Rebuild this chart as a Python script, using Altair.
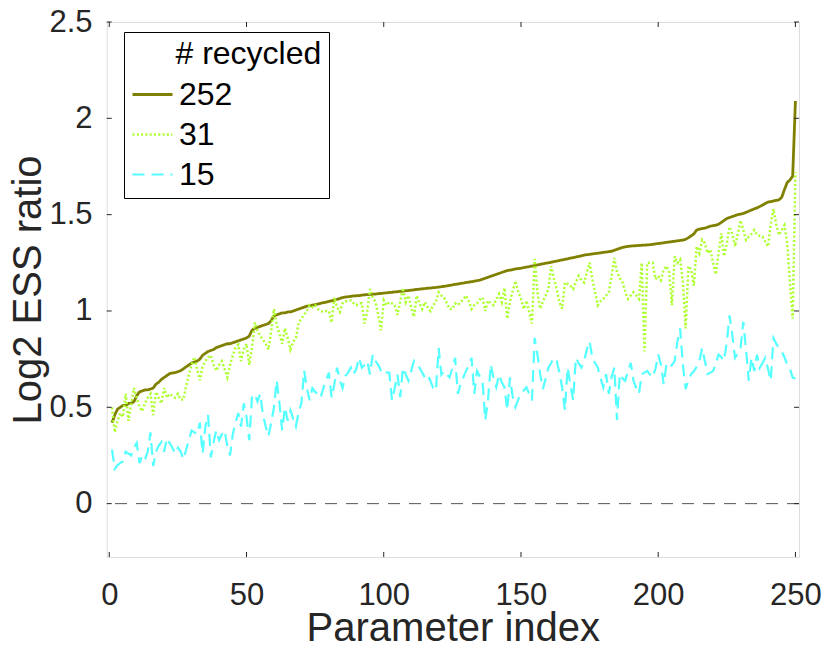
import altair as alt
import pandas as pd

# ---------------- data ----------------
param_index = list(range(1, 251))

s252 = [
    0.42, 0.46, 0.49, 0.50, 0.51, 0.51, 0.52, 0.52, 0.53, 0.56,
    0.58, 0.585, 0.59, 0.59, 0.595, 0.60, 0.62, 0.63, 0.645, 0.655,
    0.665, 0.675, 0.678, 0.68, 0.685, 0.69, 0.70, 0.71, 0.72, 0.73,
    0.735, 0.74, 0.75, 0.77, 0.78, 0.79, 0.795, 0.80, 0.81, 0.815,
    0.82, 0.825, 0.83, 0.83, 0.835, 0.84, 0.845, 0.85, 0.855, 0.86,
    0.87, 0.90, 0.91, 0.915, 0.92, 0.925, 0.93, 0.935, 0.95, 0.975,
    0.98, 0.985, 0.99, 0.99, 0.995, 0.995, 1.0, 1.005, 1.01, 1.015,
    1.02, 1.025, 1.027, 1.03, 1.033, 1.036, 1.04, 1.043, 1.046, 1.05,
    1.053, 1.056, 1.06, 1.065, 1.07, 1.072, 1.074, 1.076, 1.078, 1.079,
    1.08, 1.082, 1.084, 1.085, 1.086, 1.087, 1.088, 1.09, 1.091, 1.093,
    1.094, 1.096, 1.097, 1.099, 1.10, 1.102, 1.103, 1.105, 1.106, 1.108,
    1.11, 1.112, 1.113, 1.115, 1.116, 1.118, 1.119, 1.121, 1.122, 1.124,
    1.126, 1.128, 1.13, 1.133, 1.135, 1.138, 1.14, 1.143, 1.145, 1.148,
    1.15, 1.152, 1.155, 1.157, 1.16, 1.165, 1.17, 1.175, 1.18, 1.185,
    1.19, 1.195, 1.20, 1.205, 1.21, 1.212, 1.215, 1.218, 1.22, 1.222,
    1.225, 1.228, 1.23, 1.233, 1.236, 1.239, 1.242, 1.245, 1.248, 1.25,
    1.253, 1.256, 1.259, 1.262, 1.265, 1.268, 1.271, 1.274, 1.277, 1.28,
    1.283, 1.286, 1.29, 1.292, 1.294, 1.296, 1.298, 1.30, 1.302, 1.304,
    1.306, 1.308, 1.31, 1.315, 1.32, 1.325, 1.33, 1.333, 1.335, 1.337,
    1.338, 1.339, 1.34, 1.341, 1.342, 1.343, 1.344, 1.346, 1.348, 1.35,
    1.352, 1.354, 1.356, 1.358, 1.36, 1.362, 1.364, 1.366, 1.368, 1.372,
    1.38, 1.39, 1.40, 1.42, 1.425, 1.428, 1.43, 1.435, 1.44, 1.443,
    1.445, 1.45, 1.46, 1.47, 1.48, 1.485, 1.49, 1.495, 1.50, 1.503,
    1.506, 1.512, 1.518, 1.524, 1.53, 1.535, 1.542, 1.55, 1.558, 1.565,
    1.568, 1.571, 1.574, 1.577, 1.59, 1.63, 1.667, 1.68, 1.70, 2.09,
]

s31 = [
    0.50, 0.37, 0.43, 0.47, 0.45, 0.57, 0.43, 0.52, 0.60, 0.55,
    0.50, 0.48, 0.52, 0.55, 0.57, 0.46, 0.58, 0.55, 0.52, 0.60,
    0.55, 0.57, 0.56, 0.55, 0.57, 0.54, 0.54, 0.61, 0.67, 0.72,
    0.76, 0.70, 0.64, 0.71, 0.74, 0.76, 0.77, 0.72, 0.69, 0.72,
    0.74, 0.70, 0.655, 0.72, 0.77, 0.81, 0.825, 0.74, 0.80, 0.83,
    0.72, 0.81, 0.94, 0.90, 0.87, 0.85, 0.83, 0.80, 0.90, 1.01,
    0.93, 0.88, 0.83, 0.91, 0.86, 0.80, 0.84, 0.86, 0.94, 0.96,
    0.98, 1.0, 1.03, 1.02, 1.03, 1.01, 1.0, 0.995, 1.0, 1.0,
    0.94, 1.07, 1.02, 0.995, 1.04, 1.05, 1.05, 1.055, 1.04, 1.03,
    1.04, 1.04, 0.935, 1.0, 1.114, 1.07, 1.046, 0.98, 0.90, 1.055,
    1.03, 1.046, 1.04, 1.03, 0.98, 1.05, 1.12, 1.046, 1.08, 1.02,
    0.97, 1.08, 1.04, 1.01, 1.046, 1.02, 1.0, 1.03, 1.046, 1.097,
    1.08, 1.07, 1.04, 1.01, 1.01, 1.04, 1.03, 1.046, 1.06, 1.08,
    1.05, 1.01, 1.03, 1.04, 1.06, 1.07, 1.0, 1.054, 1.04, 1.03,
    1.06, 1.088, 1.046, 1.12, 0.96, 1.05, 1.105, 1.156, 1.10, 1.063,
    1.01, 1.054, 0.995, 0.935, 1.27, 1.097, 1.012, 1.05, 1.08, 1.114,
    1.233, 1.17, 1.114, 1.046, 1.012, 1.148, 1.14, 1.13, 1.114, 1.15,
    1.182, 1.16, 1.148, 1.20, 1.25, 1.165, 1.097, 1.03, 1.05, 1.063,
    1.08, 1.097, 1.18, 1.275, 1.20, 1.17, 1.148, 1.10, 1.063, 1.08,
    1.097, 1.08, 1.063, 1.25, 0.79, 1.25, 1.25, 1.25, 1.165, 1.182,
    1.16, 1.216, 1.233, 1.20, 1.03, 1.284, 1.25, 1.267, 1.15, 0.91,
    1.233, 1.216, 1.131, 1.335, 1.30, 1.369, 1.352, 1.30, 1.318, 1.25,
    1.19, 1.30, 1.403, 1.284, 1.35, 1.437, 1.40, 1.335, 1.40, 1.47,
    1.42, 1.369, 1.386, 1.40, 1.42, 1.394, 1.39, 1.386, 1.36, 1.335,
    1.45, 1.53, 1.45, 1.394, 1.42, 1.445, 1.352, 1.15, 0.96, 1.72,
]

s15 = [
    0.28, 0.18, 0.20, 0.21, 0.22, 0.27, 0.26, 0.25, 0.29, 0.315,
    0.21, 0.25, 0.23, 0.27, 0.37, 0.195, 0.27, 0.30, 0.32, 0.27,
    0.34, 0.315, 0.29, 0.26, 0.29, 0.27, 0.23, 0.28, 0.33, 0.38,
    0.37, 0.36, 0.42, 0.26, 0.40, 0.46, 0.24, 0.32, 0.38, 0.33,
    0.36, 0.38, 0.30, 0.25, 0.36, 0.42, 0.47, 0.40, 0.52, 0.45,
    0.33, 0.55, 0.57, 0.53, 0.57, 0.46, 0.40, 0.35, 0.42, 0.50,
    0.64, 0.52, 0.38, 0.50, 0.43, 0.485, 0.44, 0.40, 0.476, 0.52,
    0.69, 0.60, 0.536, 0.60, 0.58, 0.57, 0.55, 0.60, 0.64, 0.68,
    0.55, 0.62, 0.706, 0.64, 0.60, 0.663, 0.68, 0.706, 0.67, 0.70,
    0.757, 0.706, 0.72, 0.74, 0.67, 0.774, 0.74, 0.72, 0.69, 0.67,
    0.68, 0.68, 0.536, 0.60, 0.67, 0.553, 0.706, 0.67, 0.638, 0.69,
    0.74, 0.72, 0.706, 0.68, 0.655, 0.67, 0.638, 0.60, 0.587, 0.808,
    0.67, 0.689, 0.67, 0.655, 0.706, 0.757, 0.57, 0.62, 0.655, 0.689,
    0.72, 0.757, 0.57, 0.689, 0.66, 0.638, 0.434, 0.536, 0.723, 0.65,
    0.604, 0.67, 0.63, 0.604, 0.485, 0.655, 0.553, 0.502, 0.54, 0.57,
    0.587, 0.604, 0.57, 0.536, 0.86, 0.774, 0.672, 0.595, 0.65, 0.706,
    0.73, 0.757, 0.74, 0.68, 0.604, 0.485, 0.706, 0.62, 0.536, 0.757,
    0.73, 0.706, 0.74, 0.80, 0.842, 0.757, 0.73, 0.706, 0.65, 0.604,
    0.672, 0.57, 0.655, 0.706, 0.434, 0.672, 0.65, 0.638, 0.69, 0.731,
    0.638, 0.60, 0.57, 0.672, 0.68, 0.689, 0.67, 0.655, 0.70, 0.774,
    0.723, 0.62, 0.722, 0.705, 0.72, 0.74, 0.842, 0.91, 0.722, 0.595,
    0.64, 0.672, 0.688, 0.71, 0.74, 0.808, 0.74, 0.672, 0.68, 0.688,
    0.73, 0.773, 0.76, 0.74, 0.842, 0.977, 0.876, 0.757, 0.78, 0.808,
    0.944, 0.80, 0.638, 0.757, 0.688, 0.773, 0.705, 0.73, 0.757, 0.70,
    0.638, 0.859, 0.83, 0.808, 0.79, 0.76, 0.722, 0.70, 0.654, 0.65,
]

series_names = ["252", "31", "15"]
series_colors = ["#808000", "#adff2f", "#55ffff"]
series_dash = [[1, 0], [2, 2.3], [12, 7]]
series_width = [2.8, 2.2, 1.9]

x_ticks = [0, 50, 100, 150, 200, 250]
y_ticks = [0, 0.5, 1, 1.5, 2, 2.5]
x_domain = [-0.94, 251.3]
y_domain = [-0.277, 2.5]

# ---------------- build tables ----------------
rows = []
for name, vals in zip(series_names, [s252, s31, s15]):
    for i, v in zip(param_index, vals):
        rows.append({"index": i, "value": v, "series": name})
df = pd.DataFrame(rows)
df_zero = pd.DataFrame({"value": [0]})
df_xt = pd.DataFrame({"index": x_ticks})
df_yt = pd.DataFrame({"value": y_ticks})

FONT = "Liberation Sans"
AXC = "#262626"
W, H = 692.3, 535.0

x_enc = alt.X(
    "index:Q",
    scale=alt.Scale(domain=x_domain, nice=False, zero=False),
    axis=alt.Axis(
        values=x_ticks, title="Parameter index", grid=False, domain=False,
        ticks=False, tickSize=0, labelFlush=False,
        labelFont=FONT, labelFontSize=31, labelColor=AXC,
        labelBaseline="alphabetic", labelPadding=47,
        titleFont=FONT, titleFontSize=40, titleFontWeight="normal",
        titleColor=AXC, titleBaseline="alphabetic", titleY=83.5, titleX=W / 2,
    ),
)
y_enc = alt.Y(
    "value:Q",
    scale=alt.Scale(domain=y_domain, nice=False, zero=False),
    axis=alt.Axis(
        values=y_ticks, title="Log2 ESS ratio", grid=False, domain=False,
        ticks=False, tickSize=0, labelFlush=False, format="~g",
        labelFont=FONT, labelFontSize=31, labelColor=AXC, labelPadding=14.7,
        titleFont=FONT, titleFontSize=40, titleFontWeight="normal",
        titleColor=AXC, titleBaseline="alphabetic", titleAngle=270,
        titleX=-66.7, titleY=H / 2,
    ),
)

legend = alt.Legend(
    title="\u200b" + "\u00a0" * 5 + "# recycled",
    orient="none", legendX=17.3, legendY=10,
    fillColor="white", strokeColor="#000000", padding=7,
    titleFont=FONT, titleFontSize=32, titleFontWeight="normal",
    titleColor="black", titlePadding=2, titleLimit=0,
    labelFont=FONT, labelFontSize=32, labelColor="black", labelLimit=0,
    labelOffset=5, symbolType="stroke", symbolSize=1600, rowPadding=2,
)

zero_line = alt.Chart(df_zero).mark_rule(
    color="#555555", strokeDash=[12, 9], strokeWidth=1
).encode(y=y_enc)

lines = alt.Chart(df).mark_line(strokeCap="butt").encode(
    x=x_enc,
    y=y_enc,
    color=alt.Color("series:N", scale=alt.Scale(domain=series_names, range=series_colors), legend=legend),
    strokeDash=alt.StrokeDash("series:N", scale=alt.Scale(domain=series_names, range=series_dash), legend=legend),
    strokeWidth=alt.StrokeWidth("series:N", scale=alt.Scale(domain=series_names, range=series_width), legend=legend),
)

tick_style = dict(color=AXC, strokeWidth=1)
xt_bottom = alt.Chart(df_xt).mark_rule(**tick_style).encode(x=x_enc, y=alt.value(H), y2=alt.value(H - 5))
xt_top = alt.Chart(df_xt).mark_rule(**tick_style).encode(x=x_enc, y=alt.value(0), y2=alt.value(5))
yt_left = alt.Chart(df_yt).mark_rule(**tick_style).encode(y=y_enc, x=alt.value(0), x2=alt.value(5))
yt_right = alt.Chart(df_yt).mark_rule(**tick_style).encode(y=y_enc, x=alt.value(W - 5), x2=alt.value(W))

chart = alt.layer(zero_line, lines, xt_bottom, xt_top, yt_left, yt_right).properties(
    width=W, height=H,
    padding={"left": 98.7, "top": 14, "right": 23, "bottom": 87},
    autosize=alt.AutoSizeParams(type="none"),
).configure_view(
    stroke=AXC, strokeWidth=1
).configure(background="white")

chart.save("out.html", embed_options={"renderer": "svg", "actions": False})
